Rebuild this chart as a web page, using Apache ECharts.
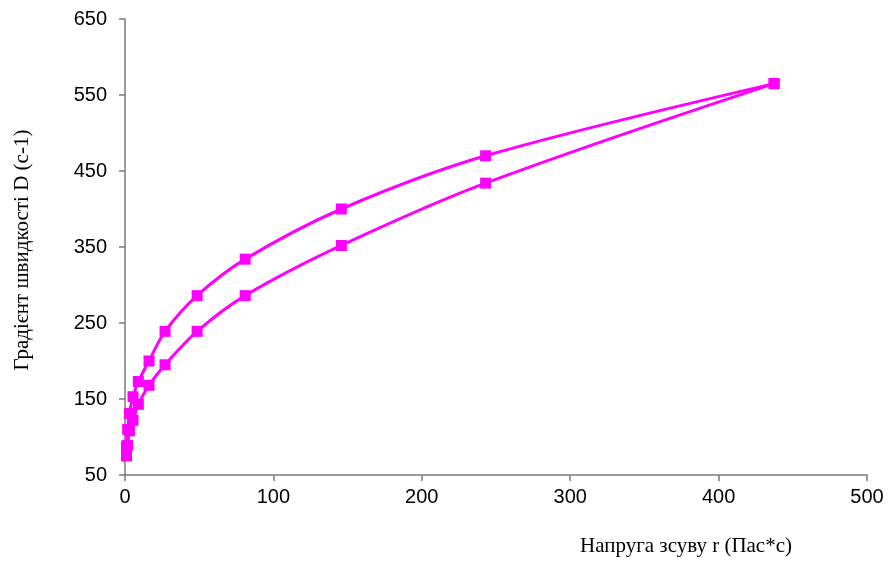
<!DOCTYPE html>
<html>
<head>
<meta charset="utf-8">
<script src="https://cdn.jsdelivr.net/npm/echarts@6/dist/echarts.min.js"></script>
<style>html,body{margin:0;padding:0;background:#fff;}#c{width:889px;height:561px;}</style>
</head>
<body>
<div id="c"></div>
<script>
const xValues = [1, 1.8, 3, 5.4, 9, 16.2, 27, 48.6, 81, 145.8, 243, 437.4];
const upperD = [88, 110, 131, 153, 173, 200, 239, 286, 334, 400, 470, 565];
const lowerD = [75, 89, 108, 122, 143, 168, 195, 239, 286, 352, 434, 565];
const xTicks = [0, 100, 200, 300, 400, 500];
const yTicks = [50, 150, 250, 350, 450, 550, 650];
const xTitle = 'Напруга зсуву r (Пас*с)';
const yTitle = 'Градієнт швидкості D (c-1)';

const chart = echarts.init(document.getElementById('c'), null, {renderer: 'canvas'});
const pair = (ys) => xValues.map((x, i) => [x, ys[i]]);
const seriesStyle = {
  type: 'line',
  smooth: 0.35,
  symbol: 'rect',
  symbolSize: 11,
  lineStyle: {color: '#FF00FF', width: 3},
  itemStyle: {color: '#FF00FF'},
  animation: false
};
chart.setOption({
  backgroundColor: '#fff',
  grid: {left: 125, right: 22, top: 19, bottom: 86},
  xAxis: {
    type: 'value', min: xTicks[0], max: xTicks[xTicks.length - 1], interval: 100,
    axisLine: {show: true, lineStyle: {color: '#7a7a7a', width: 1.5}},
    axisTick: {show: true, length: 6, lineStyle: {color: '#7a7a7a', width: 1.5}},
    splitLine: {show: false},
    axisLabel: {color: '#000', fontSize: 20, fontFamily: 'Liberation Sans, Arial', margin: 12}
  },
  yAxis: {
    type: 'value', min: yTicks[0], max: yTicks[yTicks.length - 1], interval: 100,
    axisLine: {show: true, lineStyle: {color: '#7a7a7a', width: 1.5}},
    axisTick: {show: true, length: 6, lineStyle: {color: '#7a7a7a', width: 1.5}},
    splitLine: {show: false},
    axisLabel: {color: '#000', fontSize: 20, fontFamily: 'Liberation Sans, Arial', margin: 18}
  },
  graphic: [
    {type: 'text', left: 580, top: 536, style: {text: xTitle, font: '21px "Liberation Serif", "Times New Roman", serif', fill: '#000'}},
    {type: 'text', x: 22, y: 250, rotation: Math.PI / 2, style: {text: yTitle, font: '21px "Liberation Serif", "Times New Roman", serif', fill: '#000', align: 'center', verticalAlign: 'middle'}}
  ],
  series: [
    Object.assign({name: 'upper', data: pair(upperD)}, seriesStyle),
    Object.assign({name: 'lower', data: pair(lowerD)}, seriesStyle)
  ]
});
</script>
</body>
</html>
